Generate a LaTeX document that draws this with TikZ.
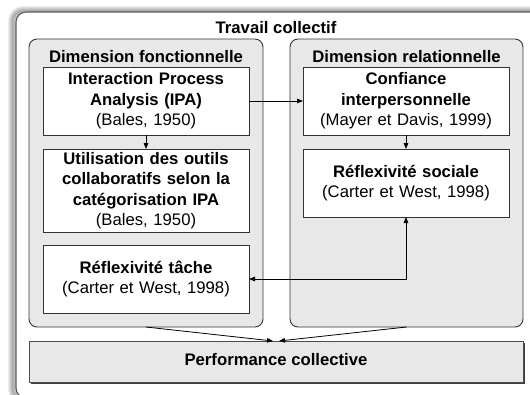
\documentclass[tikz,border=0pt]{standalone}
\usepackage{fontspec}
\setmainfont{Liberation Sans}
\usetikzlibrary{arrows.meta}
\begin{document}
\begin{tikzpicture}[x=1pt,y=-1pt,
  every node/.style={font=\fontsize{16.7}{20.5}\selectfont, inner sep=0pt, outer sep=0pt},
  whitebox/.style={draw=black!80, line width=0.9pt, fill=white, minimum width=206pt, text width=200pt, align=center},
  dimbox/.style={draw=black!80, line width=0.9pt, fill=black!9, rounded corners=8pt},
  outerbox/.style={draw=black!65, line width=1.1pt, fill=white, rounded corners=10pt},
  perfbox/.style={draw=black!70, line width=0.9pt, fill=black!9},
  arr/.style={-{Triangle[length=6pt,width=4.5pt]}, line width=0.8pt},
  arrboth/.style={{Triangle[length=6pt,width=4.5pt]}-{Triangle[length=6pt,width=4.5pt]}, line width=0.8pt},
  titletext/.style={font=\fontsize{16.7}{20.5}\selectfont\bfseries}
]
\useasboundingbox (0,0) rectangle (530,394);
\clip (0,0) rectangle (530,394);
\fill[white] (0,0) rectangle (530,394);
% soft shadow of outer frame
\foreach \w in {2,4,6,8,10}{
  \draw[black, opacity=0.07, line width=\w pt, rounded corners=10pt] (13,11) rectangle (541,399);
}
\node[outerbox, minimum width=528pt, minimum height=386pt] (outer) at (280,205) {};
\node[titletext] (outert) at (276,28) {Travail collectif};

\node[dimbox, minimum width=234pt, minimum height=288pt] (dimf) at (146,183) {};
\node[titletext] (dimft) at (146,57) {Dimension fonctionnelle};
\node[dimbox, minimum width=233pt, minimum height=288pt] (dimr) at (406.5,183) {};
\node[titletext] (dimrt) at (406.5,57) {Dimension relationnelle};

\node[whitebox, minimum height=68pt] (ipa) at (146,101) {\textbf{Interaction Process\\Analysis (IPA)}\\(Bales, 1950)};
\node[whitebox, minimum height=83pt] (util) at (146,190.5) {\textbf{Utilisation des outils\\collaboratifs selon la\\catégorisation IPA}\\(Bales, 1950)};
\node[whitebox, minimum height=68pt] (tache) at (146,279) {\textbf{Réflexivité tâche}\\(Carter et West, 1998)};
\node[whitebox, minimum height=68pt] (conf) at (406,101) {\textbf{Confiance\\interpersonnelle}\\(Mayer et Davis, 1999)};
\node[whitebox, minimum height=68pt] (soc) at (406,183) {\textbf{Réflexivité sociale}\\(Carter et West, 1998)};

\fill[black!75] (30.5,342.5) rectangle (524.5,383.5);
\node[perfbox, minimum width=494pt, minimum height=41pt] (perf) at (276,361.5) {};
\node[titletext] (perft) at (276,360) {Performance collective};

\draw[arr] (ipa.east) -- (conf.west);
\draw[arr] (ipa.south) -- (util.north);
\draw[arr] (conf.south) -- (soc.north);
\draw[arrboth] (tache.east) -| (soc.south);
\draw[arr] (dimf.south) -- ([xshift=-3pt]perf.north);
\draw[arr] (dimr.south) -- ([xshift=3pt]perf.north);
\end{tikzpicture}
\end{document}
